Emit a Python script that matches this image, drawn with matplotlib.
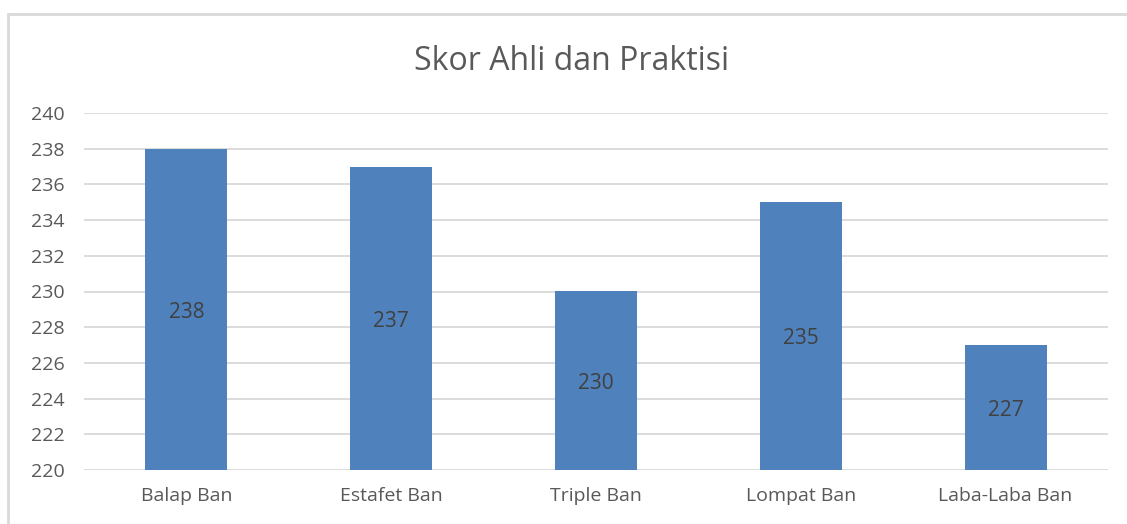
import matplotlib.pyplot as plt
import matplotlib.patches as patches
import numpy as np

categories = ['Balap Ban', 'Estafet Ban', 'Triple Ban', 'Lompat Ban', 'Laba-Laba Ban']
scores = [238, 237, 230, 235, 227]
y_ticks = [220, 222, 224, 226, 228, 230, 232, 234, 236, 238, 240]

plt.rcParams['font.family'] = ['Open Sans', 'DejaVu Sans']

fig = plt.figure(figsize=(11.27, 5.24), dpi=100)
ax = fig.add_axes([84 / 1127, 54 / 524, 1024 / 1127, 357 / 524])

# chart border (cut off on right/bottom like the screenshot)
border = patches.Rectangle((8 / 1127, -0.1), 1.2, (524 - 14) / 524 + 0.1,
                           transform=fig.transFigure, fill=False,
                           edgecolor='#D9D9D9', linewidth=2, clip_on=False)
fig.patches.append(border)

x = np.arange(len(categories))
base = 220
bars = ax.bar(x, np.array(scores) - base, bottom=base, width=0.4,
              color='#4F81BD', zorder=3)

for xi, v in zip(x, scores):
    ax.annotate(str(v), (xi, (base + v) / 2), xytext=(0, -2), textcoords='offset points',
                ha='center', va='center', fontsize=15, color='#404040', zorder=4)

ax.set_xlim(-0.5, len(categories) - 0.5)
ax.set_ylim(220, 240)
ax.set_yticks(y_ticks)
ax.set_xticks(x)
ax.set_xticklabels(categories)
ax.yaxis.grid(True, color='#D9D9D9', linewidth=1.3, zorder=0)
ax.tick_params(axis='both', length=0, labelsize=14, colors='#595959')
ax.tick_params(axis='y', pad=14)
ax.tick_params(axis='x', pad=12)
for s in ax.spines.values():
    s.set_visible(False)

fig.text(572 / 1127, (524 - 62) / 524, 'Skor Ahli dan Praktisi', ha='center', va='center',
         fontsize=23, color='#595959')

fig.savefig('out.png', dpi=100)
